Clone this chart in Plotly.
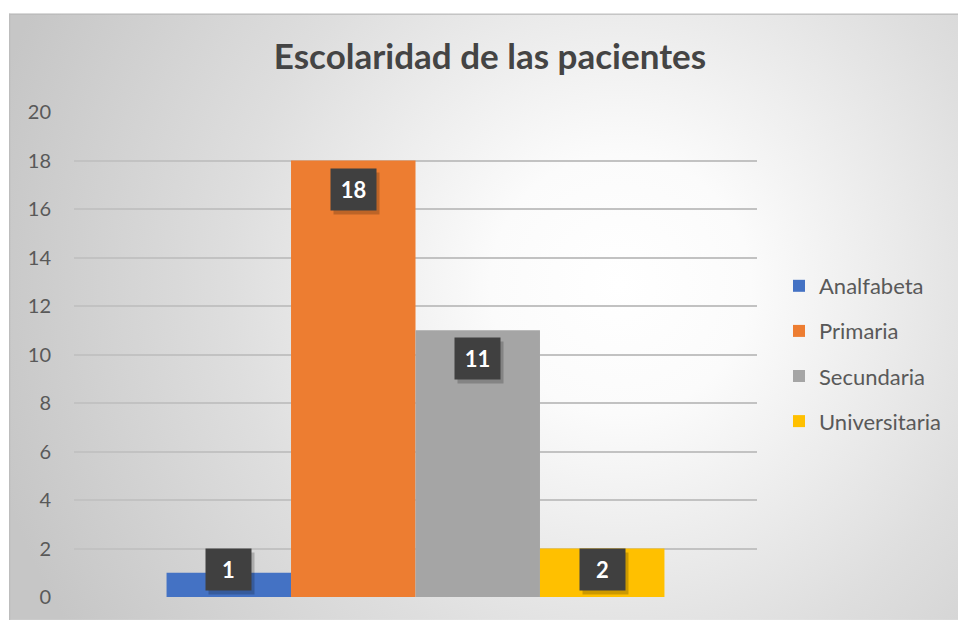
import base64
import plotly.graph_objects as go

# ---- data ----
categories = ["Escolaridad"]
series_names = ["Analfabeta", "Primaria", "Secundaria", "Universitaria"]
series_values = [1, 18, 11, 2]
series_colors = ["#4472C4", "#ED7D31", "#A5A5A5", "#FFC000"]
y_tick_values = [0, 2, 4, 6, 8, 10, 12, 14, 16, 18, 20]
title_text = "Escolaridad de las pacientes"

FONT = "Lato, 'Open Sans', sans-serif"
OX, OY = 0, 0
W, H = 958, 620
# plot area in page pixels: x 74..757, y 112..599
L = 74 - OX
T = 112 - OY
R = W - (757 - OX)
B = H - (599 - OY)
plot_w = W - L - R
plot_h = H - T - B
BARGAP = 0.271

fig = go.Figure()
for name, val, col in zip(series_names, series_values, series_colors):
    fig.add_trace(go.Bar(
        x=categories, y=[val], name=name, marker_color=col,
        marker_line_width=0, legendgroup=name, hoverinfo="skip",
    ))

# background radial gradient (chart area)
bx0, by0 = 9 - OX, 13 - OY
bw, bh = W - bx0 + 2, H - by0 + 2
svg = f'''<svg xmlns="http://www.w3.org/2000/svg" width="{bw}" height="{bh}">
<defs><radialGradient id="g" gradientUnits="userSpaceOnUse" cx="{620-9}" cy="{285-13}" r="650">
<stop offset="0" stop-color="#ffffff"/>
<stop offset="0.2" stop-color="#fbfbfb"/>
<stop offset="0.6" stop-color="#dedede"/>
<stop offset="1" stop-color="#c6c6c6"/>
</radialGradient></defs>
<rect x="0" y="0" width="{bw}" height="{bh}" fill="url(#g)"/>
<line x1="0" y1="0.5" x2="{bw}" y2="0.5" stroke="#b8b8b8" stroke-width="1.5"/>
<line x1="0.5" y1="0" x2="0.5" y2="{bh}" stroke="#bdbdbd" stroke-width="1.5"/>
</svg>'''
src = "data:image/svg+xml;base64," + base64.b64encode(svg.encode()).decode()
fig.add_layout_image(dict(
    source=src, xref="paper", yref="paper",
    x=(bx0 - L) / plot_w, y=(H - B - by0) / plot_h,
    sizex=bw / plot_w, sizey=bh / plot_h,
    xanchor="left", yanchor="top", sizing="stretch", layer="below",
))

# data labels (dark boxes) positioned at each grouped bar
n = len(series_values)
group_w = 1 - BARGAP
bar_w = group_w / n
for i, (val, name) in enumerate(zip(series_values, series_names)):
    xc = -group_w / 2 + bar_w * (i + 0.5)
    ytop = max(val, 2.3)
    fig.add_annotation(x=xc, y=ytop, xref="x", yref="y", text="",
                       showarrow=False, width=45, height=41, borderpad=0,
                       bgcolor="rgba(0,0,0,0.2)", yanchor="top",
                       xshift=3, yshift=-11)
    fig.add_annotation(x=xc, y=ytop, xref="x", yref="y",
                       text=f"<b>{val}</b>", showarrow=False,
                       width=45, height=41, borderpad=0,
                       bgcolor="#404040",
                       font=dict(family=FONT, size=22, color="white"),
                       yanchor="top", yshift=-7)

fig.update_layout(
    width=W, height=H,
    margin=dict(l=L, r=R, t=T, b=B),
    paper_bgcolor="white", plot_bgcolor="rgba(0,0,0,0)",
    barmode="group", bargap=BARGAP, bargroupgap=0,
    title=dict(text=f"<b>{title_text}</b>", x=(490 - OX) / W, y=1 - (57 - OY) / H,
               xanchor="center", yanchor="middle", xref="container", yref="container",
               font=dict(family=FONT, size=35, color="#444444")),
    font=dict(family=FONT, color="#595959"),
    legend=dict(x=(779 - 74) / plot_w, y=(599 - 354.5) / 487, xanchor="left", yanchor="middle",
                font=dict(family=FONT, size=22, color="#595959"),
                bgcolor="rgba(0,0,0,0)", tracegroupgap=13.5,
                itemclick=False, itemdoubleclick=False),
    showlegend=True,
)
fig.update_xaxes(showticklabels=False, showgrid=False, zeroline=False,
                 showline=False, fixedrange=True)
fig.update_yaxes(range=[0, 20], tickvals=y_tick_values, showgrid=True,
                 gridcolor="#c2c2c2", gridwidth=1.5, zeroline=False,
                 showline=False, ticks="", ticklabelstandoff=22,
                 tickfont=dict(family=FONT, size=20, color="#595959"),
                 fixedrange=True)

fig.write_html(
    "out.html",
    config={"displayModeBar": False},
    post_script="document.body.style.margin='0';document.body.style.overflow='hidden';",
)
